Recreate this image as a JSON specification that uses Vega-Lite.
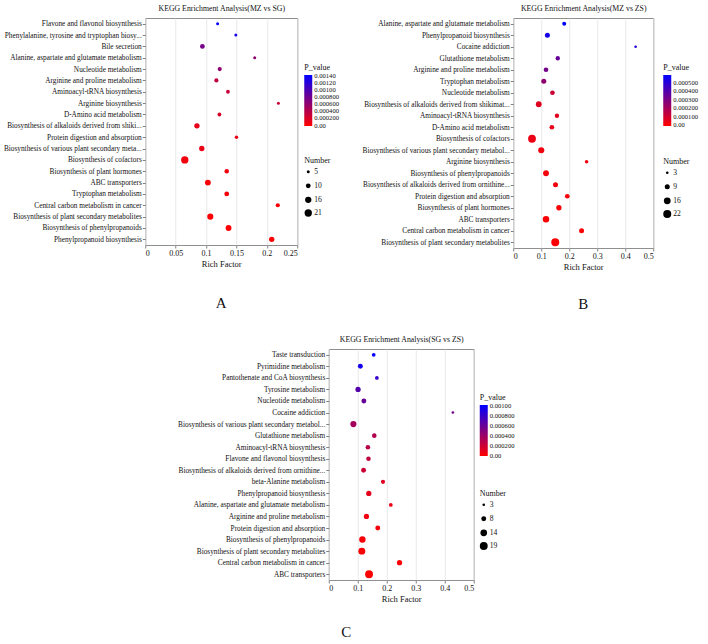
{
  "$schema": "https://vega.github.io/schema/vega-lite/v6.json",
  "background": "white",
  "padding": {"left": 2, "top": 3, "right": 2, "bottom": 2},
  "datasets": {
    "mz_sg": [
      {"pathway": "Flavone and flavonol biosynthesis", "rich": 0.119, "count": 5, "p": 0.0014},
      {"pathway": "Phenylalanine, tyrosine and tryptophan biosy...", "rich": 0.149, "count": 5, "p": 0.0013},
      {"pathway": "Bile secretion", "rich": 0.094, "count": 10, "p": 0.00075},
      {"pathway": "Alanine, aspartate and glutamate metabolism", "rich": 0.18, "count": 5, "p": 0.0006},
      {"pathway": "Nucleotide metabolism", "rich": 0.1225, "count": 8, "p": 0.0006},
      {"pathway": "Arginine and proline metabolism", "rich": 0.117, "count": 8, "p": 0.00035},
      {"pathway": "Aminoacyl-tRNA biosynthesis", "rich": 0.136, "count": 7, "p": 0.0003},
      {"pathway": "Arginine biosynthesis", "rich": 0.219, "count": 5, "p": 0.00028},
      {"pathway": "D-Amino acid metabolism", "rich": 0.122, "count": 7, "p": 0.00022},
      {"pathway": "Biosynthesis of alkaloids derived from shiki...", "rich": 0.085, "count": 12, "p": 0.00012},
      {"pathway": "Protein digestion and absorption", "rich": 0.15, "count": 6, "p": 0.0001},
      {"pathway": "Biosynthesis of various plant secondary meta...", "rich": 0.093, "count": 12, "p": 0.0001},
      {"pathway": "Biosynthesis of cofactors", "rich": 0.065, "count": 21, "p": 0.00006},
      {"pathway": "Biosynthesis of plant hormones", "rich": 0.134, "count": 9, "p": 0.00005},
      {"pathway": "ABC transporters", "rich": 0.103, "count": 14, "p": 0.00003},
      {"pathway": "Tryptophan metabolism", "rich": 0.134, "count": 10, "p": 0.00003},
      {"pathway": "Central carbon metabolism in cancer", "rich": 0.218, "count": 8, "p": 0.00002},
      {"pathway": "Biosynthesis of plant secondary metabolites", "rich": 0.107, "count": 15, "p": 0.00001},
      {"pathway": "Biosynthesis of phenylpropanoids", "rich": 0.137, "count": 14, "p": 0.00001},
      {"pathway": "Phenylpropanoid biosynthesis", "rich": 0.208, "count": 12, "p": 0.000005}
    ],
    "mz_zs": [
      {"pathway": "Alanine, aspartate and glutamate metabolism", "rich": 0.182, "count": 6, "p": 0.00058},
      {"pathway": "Phenylpropanoid biosynthesis", "rich": 0.122, "count": 9, "p": 0.00054},
      {"pathway": "Cocaine addiction", "rich": 0.437, "count": 3, "p": 0.0005},
      {"pathway": "Glutathione metabolism", "rich": 0.159, "count": 7, "p": 0.00035},
      {"pathway": "Arginine and proline metabolism", "rich": 0.117, "count": 8, "p": 0.00032},
      {"pathway": "Tryptophan metabolism", "rich": 0.109, "count": 9, "p": 0.00026},
      {"pathway": "Nucleotide metabolism", "rich": 0.14, "count": 8, "p": 0.00012},
      {"pathway": "Biosynthesis of alkaloids derived from shikimat...", "rich": 0.091, "count": 12, "p": 0.00007},
      {"pathway": "Aminoacyl-tRNA biosynthesis", "rich": 0.156, "count": 7, "p": 0.00006},
      {"pathway": "D-Amino acid metabolism", "rich": 0.138, "count": 8, "p": 0.00005},
      {"pathway": "Biosynthesis of cofactors", "rich": 0.067, "count": 21, "p": 0.00004},
      {"pathway": "Biosynthesis of various plant secondary metabol...", "rich": 0.1, "count": 13, "p": 0.00003},
      {"pathway": "Arginine biosynthesis", "rich": 0.262, "count": 5, "p": 0.00003},
      {"pathway": "Biosynthesis of phenylpropanoids", "rich": 0.117, "count": 12, "p": 0.00002},
      {"pathway": "Biosynthesis of alkaloids derived from ornithine...", "rich": 0.151, "count": 9, "p": 0.00002},
      {"pathway": "Protein digestion and absorption", "rich": 0.193, "count": 8, "p": 0.00001},
      {"pathway": "Biosynthesis of plant hormones", "rich": 0.163, "count": 10, "p": 0.00001},
      {"pathway": "ABC transporters", "rich": 0.117, "count": 15, "p": 0.000005},
      {"pathway": "Central carbon metabolism in cancer", "rich": 0.244, "count": 9, "p": 0.000003},
      {"pathway": "Biosynthesis of plant secondary metabolites", "rich": 0.15, "count": 22, "p": 0.000001}
    ],
    "sg_zs": [
      {"pathway": "Taste transduction", "rich": 0.155, "count": 5, "p": 0.00098},
      {"pathway": "Pyrimidine metabolism", "rich": 0.109, "count": 8, "p": 0.00093},
      {"pathway": "Pantothenate and CoA biosynthesis", "rich": 0.166, "count": 5, "p": 0.0008},
      {"pathway": "Tyrosine metabolism", "rich": 0.101, "count": 9, "p": 0.00068},
      {"pathway": "Nucleotide metabolism", "rich": 0.121, "count": 8, "p": 0.0006},
      {"pathway": "Cocaine addiction", "rich": 0.428, "count": 3, "p": 0.00055},
      {"pathway": "Biosynthesis of various plant secondary metabol...", "rich": 0.085, "count": 12, "p": 0.00035},
      {"pathway": "Glutathione metabolism", "rich": 0.157, "count": 7, "p": 0.0003},
      {"pathway": "Aminoacyl-tRNA biosynthesis", "rich": 0.135, "count": 7, "p": 0.00027},
      {"pathway": "Flavone and flavonol biosynthesis", "rich": 0.137, "count": 7, "p": 0.00025},
      {"pathway": "Biosynthesis of alkaloids derived from ornithine...", "rich": 0.12, "count": 8, "p": 0.0002},
      {"pathway": "beta-Alanine metabolism", "rich": 0.187, "count": 6, "p": 0.00012},
      {"pathway": "Phenylpropanoid biosynthesis", "rich": 0.138, "count": 9, "p": 0.0001},
      {"pathway": "Alanine, aspartate and glutamate metabolism", "rich": 0.214, "count": 5, "p": 0.00008},
      {"pathway": "Arginine and proline metabolism", "rich": 0.13, "count": 9, "p": 0.00005},
      {"pathway": "Protein digestion and absorption", "rich": 0.169, "count": 8, "p": 0.00004},
      {"pathway": "Biosynthesis of phenylpropanoids", "rich": 0.116, "count": 13, "p": 0.00002},
      {"pathway": "Biosynthesis of plant secondary metabolites", "rich": 0.114, "count": 15, "p": 0.00001},
      {"pathway": "Central carbon metabolism in cancer", "rich": 0.244, "count": 9, "p": 0.000005},
      {"pathway": "ABC transporters", "rich": 0.139, "count": 19, "p": 0.000001}
    ]
  },
  "vconcat": [
    {
      "hconcat": [
        {
          "width": 152,
          "height": 227,
          "data": {"name": "mz_sg"},
          "title": {"text": "A", "orient": "bottom", "frame": "group", "anchor": "middle", "offset": 28},
          "layer": [
            {
              "mark": {"type": "circle", "opacity": 1},
              "encoding": {
                "y": {"field": "pathway", "type": "nominal", "sort": null, "title": null},
                "x": {
                  "field": "rich", "type": "quantitative",
                  "scale": {"domain": [0, 0.25], "nice": false},
                  "axis": {"values": [0, 0.05, 0.1, 0.15, 0.2, 0.25], "title": "Rich Factor"}
                },
                "color": {
                  "field": "p", "type": "quantitative",
                  "scale": {"domain": [-0.000014, 0.001414], "range": ["#ff0000", "#0000ff"], "interpolate": "rgb", "nice": false, "zero": false},
                  "legend": {"title": "P_value", "orient": "none", "legendX": 159, "legendY": 46,
                             "labelExpr": "datum.value == 0 ? '0.00' : datum.value >= 0.000999 ? format(datum.value, '.5f') : format(datum.value, '.6f')",
                             "values": [0, 0.0002, 0.0004, 0.0006, 0.0008, 0.001, 0.0012, 0.0014]}
                },
                "size": {
                  "field": "count", "type": "quantitative",
                  "scale": {"domain": [5, 21], "range": [9, 54], "zero": false, "nice": false},
                  "legend": {"title": "Number", "orient": "none", "legendX": 159, "legendY": 139, "labelFontSize": 7.6, "values": [5, 10, 16, 21]}
                }
              }
            },
            {
              "mark": {"type": "circle", "opacity": 0},
              "encoding": {
                "y": {"field": "pathway", "type": "nominal", "sort": null, "title": null},
                "x": {
                  "field": "rich", "type": "quantitative",
                  "axis": {"orient": "top", "title": "KEGG Enrichment Analysis(MZ vs SG)", "labels": false, "ticks": false, "grid": false}
                }
              }
            }
          ],
          "resolve": {"axis": {"x": "independent"}}
        },
        {
          "width": 140,
          "height": 230,
          "data": {"name": "mz_zs"},
          "title": {"text": "B", "orient": "bottom", "frame": "group", "anchor": "middle", "offset": 26},
          "layer": [
            {
              "mark": {"type": "circle", "opacity": 1},
              "encoding": {
                "y": {"field": "pathway", "type": "nominal", "sort": null, "title": null},
                "x": {
                  "field": "rich", "type": "quantitative",
                  "scale": {"domain": [0, 0.5], "nice": false},
                  "axis": {"values": [0, 0.1, 0.2, 0.3, 0.4, 0.5], "title": "Rich Factor"}
                },
                "color": {
                  "field": "p", "type": "quantitative",
                  "scale": {"domain": [-0.000006, 0.00059], "range": ["#ff0000", "#0000ff"], "interpolate": "rgb", "nice": false, "zero": false},
                  "legend": {"title": "P_value", "orient": "none", "legendX": 150, "legendY": 46,
                             "labelExpr": "datum.value == 0 ? '0.00' : datum.value >= 0.000999 ? format(datum.value, '.5f') : format(datum.value, '.6f')",
                             "values": [0, 0.0001, 0.0002, 0.0003, 0.0004, 0.0005]}
                },
                "size": {
                  "field": "count", "type": "quantitative",
                  "scale": {"domain": [3, 22], "range": [7, 64], "zero": false, "nice": false},
                  "legend": {"title": "Number", "orient": "none", "legendX": 150, "legendY": 140, "labelFontSize": 7.6, "values": [3, 9, 16, 22]}
                }
              }
            },
            {
              "mark": {"type": "circle", "opacity": 0},
              "encoding": {
                "y": {"field": "pathway", "type": "nominal", "sort": null, "title": null},
                "x": {
                  "field": "rich", "type": "quantitative",
                  "axis": {"orient": "top", "title": "KEGG Enrichment Analysis(MZ vs ZS)", "labels": false, "ticks": false, "grid": false}
                }
              }
            }
          ],
          "resolve": {"axis": {"x": "independent"}}
        }
      ],
      "spacing": 21,
      "resolve": {"scale": {"color": "independent", "size": "independent"}}
    },
    {
      "width": 145,
      "height": 231,
      "data": {"name": "sg_zs"},
      "title": {"text": "C", "orient": "bottom", "frame": "bounds", "anchor": "middle", "offset": 22},
      "layer": [
        {
          "mark": {"type": "circle", "opacity": 1},
          "encoding": {
            "y": {"field": "pathway", "type": "nominal", "sort": null, "title": null},
            "x": {
              "field": "rich", "type": "quantitative",
              "scale": {"domain": [0, 0.5], "nice": false},
              "axis": {"values": [0, 0.1, 0.2, 0.3, 0.4, 0.5], "title": "Rich Factor"}
            },
            "color": {
              "field": "p", "type": "quantitative",
              "scale": {"domain": [-0.00001, 0.00101], "range": ["#ff0000", "#0000ff"], "interpolate": "rgb", "nice": false, "zero": false},
              "legend": {"title": "P_value", "orient": "none", "legendX": 151, "legendY": 45,
                         "labelExpr": "datum.value == 0 ? '0.00' : datum.value >= 0.000999 ? format(datum.value, '.5f') : format(datum.value, '.6f')",
                         "values": [0, 0.0002, 0.0004, 0.0006, 0.0008, 0.001]}
            },
            "size": {
              "field": "count", "type": "quantitative",
              "scale": {"domain": [3, 19], "range": [7, 62], "zero": false, "nice": false},
              "legend": {"title": "Number", "orient": "none", "legendX": 151, "legendY": 141, "labelFontSize": 7.6, "values": [3, 8, 14, 19]}
            }
          }
        },
        {
          "mark": {"type": "circle", "opacity": 0},
          "encoding": {
            "y": {"field": "pathway", "type": "nominal", "sort": null, "title": null},
            "x": {
              "field": "rich", "type": "quantitative",
              "axis": {"orient": "top", "title": "KEGG Enrichment Analysis(SG vs ZS)", "labels": false, "ticks": false, "grid": false}
            }
          }
        }
      ],
      "resolve": {"axis": {"x": "independent"}}
    }
  ],
  "spacing": 22,
  "center": true,
  "resolve": {"scale": {"color": "independent", "size": "independent"}},
  "config": {
    "font": "Liberation Serif",
    "view": {"stroke": "#8f8f8f", "strokeWidth": 1},
    "axis": {
      "labelFont": "Liberation Serif",
      "titleFont": "Liberation Serif",
      "labelColor": "#111111",
      "titleColor": "#111111",
      "titleFontWeight": "normal",
      "labelFontSize": 7.3,
      "titleFontSize": 8.5,
      "domain": false,
      "gridColor": "#e3e3e3",
      "gridWidth": 0.8,
      "tickColor": "#808080",
      "tickSize": 3,
      "labelPadding": 1,
      "labelLimit": 0,
      "titlePadding": 2
    },
    "axisX": {"labelFontSize": 8, "labelExpr": "'' + datum.value", "titlePadding": 2},
    "axisTop": {"titleFontSize": 7.8, "titlePadding": 6},
    "legend": {
      "titleFont": "Liberation Serif",
      "labelFont": "Liberation Serif",
      "titleFontWeight": "normal",
      "titleFontSize": 8,
      "labelFontSize": 6.6,
      "titleColor": "#111111",
      "labelColor": "#111111",
      "titlePadding": 3,
      "gradientLength": 51,
      "gradientThickness": 8,
      "gradientStrokeWidth": 0,
      "labelOverlap": false,
      "labelOffset": 2,
      "symbolFillColor": "black",
      "symbolStrokeWidth": 0,
      "symbolType": "circle",
      "rowPadding": 5
    },
    "title": {"font": "Liberation Serif", "fontSize": 15, "fontWeight": "normal", "color": "#111111"}
  }
}
